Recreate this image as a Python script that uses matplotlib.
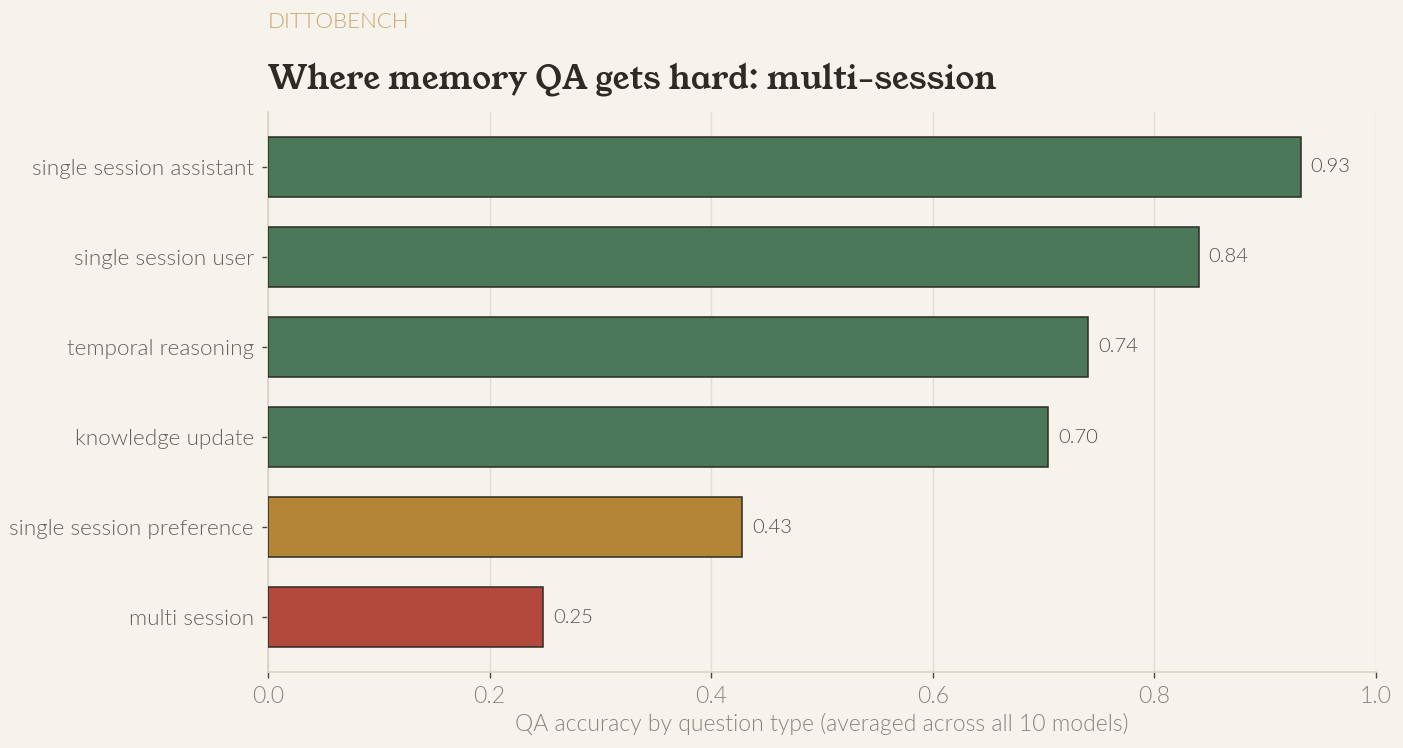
import matplotlib
matplotlib.use("Agg")
import matplotlib.pyplot as plt

categories = ["multi session", "single session preference", "knowledge update",
              "temporal reasoning", "single session user", "single session assistant"]
accuracy = [0.248, 0.428, 0.704, 0.740, 0.840, 0.932]
bar_colors = ["#b3493d", "#b38535", "#4a7858", "#4a7858", "#4a7858", "#4a7858"]
xticks = [0.0, 0.2, 0.4, 0.6, 0.8, 1.0]

BG = "#f6f3ed"
LIGHT = 300  # Lato Light
plt.rcParams["font.family"] = ["Lato", "DejaVu Sans"]

fig = plt.figure(figsize=(14.03, 7.48), dpi=100, facecolor=BG)
ax = fig.add_axes([268/1403, 1 - 672/748, 1108/1403, 560/748])
ax.set_facecolor(BG)

ypos = list(range(len(categories)))
ax.barh(ypos, accuracy, height=0.66, color=bar_colors, edgecolor="#2e2b26",
        linewidth=1.1, zorder=3)
for y, v in zip(ypos, accuracy):
    ax.text(v + 0.009, y, f"{v:.2f}", va="center", ha="left", fontsize=14.5,
            fontweight=LIGHT, color="#55514b")

ax.set_xlim(0, 1.0)
ax.set_ylim(-0.61, len(categories) - 0.39)
ax.set_yticks(ypos)
ax.set_yticklabels(categories, fontsize=16.2, fontweight=LIGHT, color="#67625b")
ax.set_xticks(xticks)
ax.set_xticklabels([f"{t:.1f}" for t in xticks], fontsize=16.5, fontweight=LIGHT,
                   color="#8a847b")
ax.tick_params(axis="both", length=4, width=1, color="#4a4640", pad=6)
ax.grid(axis="x", color="#e2ddd3", linewidth=1, zorder=0)
for s in ["top", "right"]:
    ax.spines[s].set_visible(False)
for s in ["left", "bottom"]:
    ax.spines[s].set_color("#d8d2c6")
    ax.spines[s].set_linewidth(1.2)

ax.set_xlabel("QA accuracy by question type (averaged across all 10 models)",
              fontsize=16.5, fontweight=LIGHT, color="#8a847b", labelpad=4)

fig.text(268/1403, 1 - 22/748, "DITTOBENCH", fontsize=16, fontweight=LIGHT,
         color="#c9a46a", va="center", ha="left")
fig.text(268/1403, 1 - 80/748, "Where memory QA gets hard: multi-session",
         fontsize=23.4, family=["Young Serif", "DejaVu Serif"],
         color="#2e2a25", va="center", ha="left")

fig.savefig("out.png", dpi=100, facecolor=BG)
